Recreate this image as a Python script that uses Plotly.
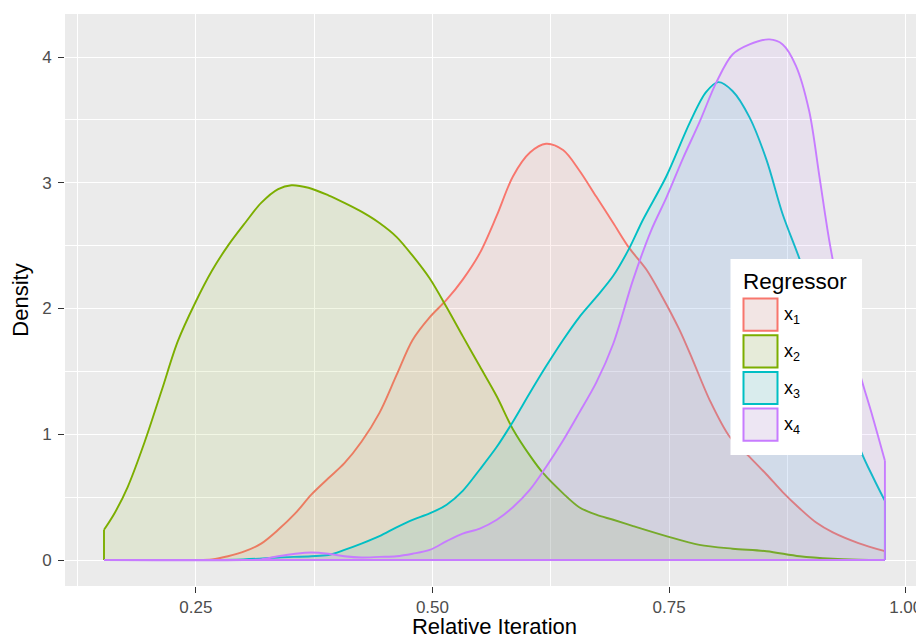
import plotly.graph_objects as go

# ---------------- data ----------------
x_tick_vals = [0.25, 0.50, 0.75, 1.00]
x_tick_text = ["0.25", "0.50", "0.75", "1.00"]
y_tick_vals = [0, 1, 2, 3, 4]
y_tick_text = ["0", "1", "2", "3", "4"]
x_minor_vals = [0.125, 0.375, 0.625, 0.875]
y_minor_vals = [0.5, 1.5, 2.5, 3.5]

series_labels = ["x<sub>1</sub>", "x<sub>2</sub>", "x<sub>3</sub>", "x<sub>4</sub>"]
series_colors = ["#F8766D", "#7CAE00", "#00BFC4", "#C77CFF"]

x1_x = [0.153, 0.200, 0.249, 0.267, 0.284, 0.302, 0.319, 0.337, 0.355, 0.372, 0.390, 0.407,
        0.425, 0.444, 0.462, 0.479, 0.497, 0.515, 0.532, 0.550, 0.568, 0.585, 0.603, 0.620,
        0.638, 0.655, 0.673, 0.691, 0.708, 0.726, 0.743, 0.761, 0.775, 0.793, 0.814, 0.835,
        0.853, 0.870, 0.888, 0.905, 0.923, 0.950, 0.978]
x1_y = [0.0, 0.0, 0.0, 0.005, 0.03, 0.07, 0.13, 0.24, 0.37, 0.52, 0.65, 0.77,
        0.94, 1.17, 1.47, 1.75, 1.93, 2.07, 2.23, 2.44, 2.74, 3.05, 3.24, 3.31,
        3.26, 3.10, 2.89, 2.68, 2.48, 2.31, 2.09, 1.83, 1.59, 1.27, 0.98, 0.82,
        0.68, 0.54, 0.41, 0.30, 0.22, 0.135, 0.07]

x2_x = [0.153, 0.164, 0.178, 0.196, 0.214, 0.231, 0.249, 0.267, 0.284, 0.302, 0.319, 0.337,
        0.351, 0.369, 0.390, 0.407, 0.425, 0.444, 0.462, 0.479, 0.497, 0.515, 0.532, 0.550,
        0.568, 0.585, 0.603, 0.617, 0.638, 0.655, 0.673, 0.691, 0.712, 0.747, 0.782, 0.817,
        0.853, 0.888, 0.923, 0.950, 0.978]
x2_y = [0.24, 0.37, 0.58, 0.94, 1.35, 1.74, 2.04, 2.30, 2.50, 2.68, 2.84, 2.95,
        2.98, 2.96, 2.90, 2.84, 2.77, 2.68, 2.57, 2.42, 2.24, 2.01, 1.78, 1.54,
        1.30, 1.04, 0.83, 0.69, 0.53, 0.42, 0.36, 0.32, 0.27, 0.19, 0.12, 0.09,
        0.07, 0.03, 0.01, 0.003, 0.0]

x3_x = [0.153, 0.300, 0.337, 0.372, 0.390, 0.407, 0.425, 0.444, 0.462, 0.479, 0.497, 0.515,
        0.532, 0.550, 0.568, 0.585, 0.603, 0.620, 0.638, 0.655, 0.673, 0.691, 0.708, 0.722,
        0.747, 0.772, 0.789, 0.802, 0.817, 0.835, 0.853, 0.870, 0.888, 0.905, 0.920, 0.940,
        0.953, 0.966, 0.978]
x3_y = [0.0, 0.005, 0.02, 0.03, 0.04, 0.08, 0.13, 0.19, 0.26, 0.32, 0.37, 0.44,
        0.55, 0.72, 0.90, 1.10, 1.33, 1.54, 1.75, 1.93, 2.09, 2.26, 2.48, 2.70,
        3.05, 3.48, 3.72, 3.80, 3.73, 3.52, 3.18, 2.75, 2.39, 2.00, 1.64, 1.17,
        0.86, 0.65, 0.47]

x4_x = [0.153, 0.300, 0.319, 0.337, 0.355, 0.372, 0.390, 0.407, 0.425, 0.444, 0.462, 0.479,
        0.497, 0.515, 0.532, 0.550, 0.568, 0.585, 0.603, 0.620, 0.638, 0.655, 0.673, 0.691,
        0.712, 0.731, 0.747, 0.765, 0.782, 0.800, 0.817, 0.835, 0.856, 0.870, 0.884, 0.898,
        0.909, 0.919, 0.930, 0.940, 0.952, 0.965, 0.978]
x4_y = [0.0, 0.0, 0.005, 0.03, 0.05, 0.06, 0.05, 0.03, 0.02, 0.025, 0.03, 0.05,
        0.08, 0.15, 0.21, 0.25, 0.32, 0.42, 0.56, 0.74, 0.95, 1.17, 1.41, 1.72,
        2.23, 2.62, 2.88, 3.20, 3.48, 3.80, 4.02, 4.10, 4.14, 4.10, 3.93, 3.57,
        3.04, 2.55, 2.12, 1.82, 1.47, 1.14, 0.79]

series_x = [x1_x, x2_x, x3_x, x4_x]
series_y = [x1_y, x2_y, x3_y, x4_y]

# ---------------- layout constants (screen pixels) ----------------
PAGE_OFF = 8                            # default page margin around the plot div
W, H = 924 - PAGE_OFF, 639 - PAGE_OFF   # figure size
PL, PT, PR, PB = 65, 14, 924, 586      # plot panel edges on screen
FONT = "Liberation Sans, Arial, Helvetica, sans-serif"
LINE_W = 1.9


def rgba(hex_color, a):
    h = hex_color.lstrip("#")
    r, g, b = int(h[0:2], 16), int(h[2:4], 16), int(h[4:6], 16)
    return f"rgba({r},{g},{b},{a})"


def pxx(px):
    return (px - PL) / (PR - PL)


def pxy(py):
    return (PB - py) / (PB - PT)


fig = go.Figure()

for xs, ys, col in zip(series_x, series_y, series_colors):
    # filled area (closed polygon down to baseline)
    fig.add_trace(go.Scatter(
        x=[xs[0]] + xs + [xs[-1]], y=[0] + ys + [0],
        mode="lines", fill="toself", fillcolor=rgba(col, 0.1),
        line=dict(width=0, color=rgba(col, 0)), hoverinfo="skip", showlegend=False))
    # smooth density outline
    fig.add_trace(go.Scatter(
        x=xs, y=ys, mode="lines",
        line=dict(color=col, width=LINE_W, shape="spline", smoothing=0.9),
        showlegend=False))
    # vertical edges and baseline of the polygon outline
    fig.add_trace(go.Scatter(
        x=[xs[0], xs[0], None, xs[-1], xs[-1], None, xs[0], xs[-1]],
        y=[ys[0], 0, None, ys[-1], 0, None, 0, 0],
        mode="lines", line=dict(color=col, width=LINE_W),
        hoverinfo="skip", showlegend=False))

# ---------------- manual legend (ggplot style) ----------------
shapes = []
annotations = []
box = dict(x0=730.5, x1=862, y0=259, y1=455)
shapes.append(dict(type="rect", xref="paper", yref="paper",
                   x0=pxx(box["x0"]), x1=pxx(box["x1"]),
                   y0=pxy(box["y1"]), y1=pxy(box["y0"]),
                   fillcolor="white", line=dict(width=0), layer="above"))
annotations.append(dict(text="Regressor", xref="paper", yref="paper",
                        x=pxx(741), y=pxy(281), xanchor="left", yanchor="middle",
                        showarrow=False, font=dict(family=FONT, size=22.5, color="black")))
key_tops = [297.5, 334.2, 370.9, 407.6]
key_h = 34.2
for top, col, lab in zip(key_tops, series_colors, series_labels):
    shapes.append(dict(type="rect", xref="paper", yref="paper",
                       x0=pxx(743.5), x1=pxx(777.5), y0=pxy(top + key_h - 1), y1=pxy(top + 1),
                       fillcolor="#F2F2F2", line=dict(width=0), layer="above"))
    shapes.append(dict(type="rect", xref="paper", yref="paper",
                       x0=pxx(743.5), x1=pxx(777.5), y0=pxy(top + key_h - 1), y1=pxy(top + 1),
                       fillcolor=rgba(col, 0.1), line=dict(color=col, width=2), layer="above"))
    annotations.append(dict(text=lab, xref="paper", yref="paper",
                            x=pxx(782), y=pxy(top + key_h / 2 + 1), xanchor="left",
                            yanchor="middle", showarrow=False,
                            font=dict(family=FONT, size=18, color="black")))

fig.update_layout(
    width=W, height=H,
    margin=dict(l=PL - PAGE_OFF, r=0, t=PT - PAGE_OFF, b=639 - PB, pad=0),
    paper_bgcolor="white", plot_bgcolor="#EBEBEB",
    showlegend=False,
    font=dict(family=FONT, color="#4D4D4D"),
    shapes=shapes, annotations=annotations,
    xaxis=dict(
        range=[0.1118, 1.0193], tickvals=x_tick_vals, ticktext=x_tick_text,
        showgrid=True, gridcolor="white", gridwidth=1.4, zeroline=False, showline=False,
        ticks="outside", ticklen=6, tickwidth=1.4, tickcolor="#333333",
        tickfont=dict(family=FONT, size=17, color="#4D4D4D"),
        minor=dict(tickvals=x_minor_vals, showgrid=True, gridcolor="white", gridwidth=0.7, ticks=""),
        title=dict(text="Relative Iteration", font=dict(family=FONT, size=22, color="black"), standoff=7),
        automargin=False, fixedrange=True),
    yaxis=dict(
        range=[-0.2068, 4.342], tickvals=y_tick_vals, ticktext=y_tick_text,
        showgrid=True, gridcolor="white", gridwidth=1.4, zeroline=False, showline=False,
        ticks="outside", ticklen=6, tickwidth=1.4, tickcolor="#333333",
        tickfont=dict(family=FONT, size=17, color="#4D4D4D"), ticklabelstandoff=3,
        minor=dict(tickvals=y_minor_vals, showgrid=True, gridcolor="white", gridwidth=0.7, ticks=""),
        title=dict(text="Density", font=dict(family=FONT, size=22, color="black"), standoff=8),
        automargin=False, fixedrange=True),
)

fig.write_html("out.html")
